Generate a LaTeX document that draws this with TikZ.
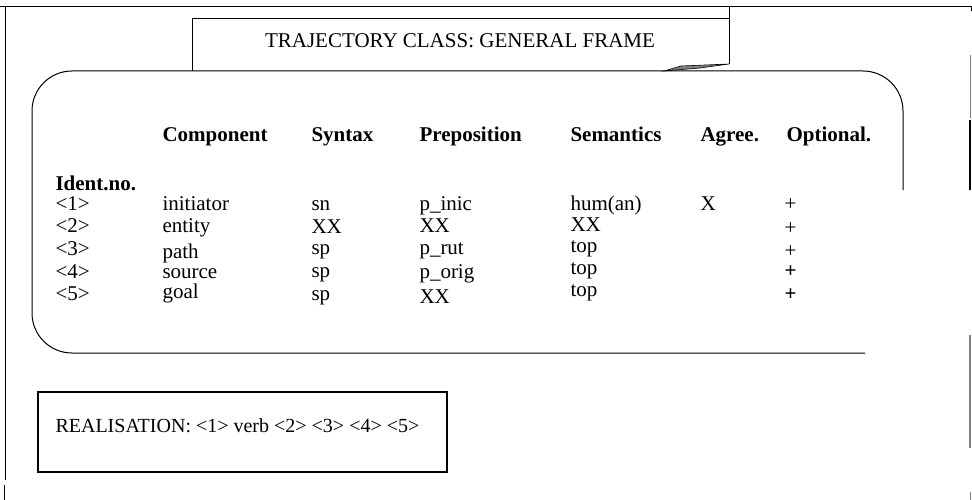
\documentclass[tikz,border=0pt]{standalone}
\usepackage{fontspec}
\setmainfont{Liberation Serif}
\begin{document}
\begin{tikzpicture}[x=1pt, y=-1pt, line width=1pt,
    cell/.style={anchor=base west, inner sep=0pt, font=\fontsize{21}{21}\selectfont},
    head/.style={cell, font=\fontsize{21}{21}\selectfont\bfseries}]
    \useasboundingbox (0,0) rectangle (972,500);
    % outer page frame
    \draw (0,7) -- (971,7) -- (971,11);
    \draw (5,7) -- (5,480);
    \draw (4,485) -- (4,500);
    \draw[gray] (970,55) -- (970,118);
    \draw[line width=1.6pt] (970,120) -- (970,190);
    \draw[gray, line width=1.3pt] (970,335) -- (970,448);
    \draw[gray] (970,492) -- (970,500);
    % title box
    \draw (192,71) -- (192,19) -- (729,19);
    \draw (729,7) -- (729,64);
    \filldraw[fill=gray, line width=0.6pt] (729,64) -- (681,66) -- (664,71) -- (700,68) -- cycle;
    \node[font=\fontsize{21}{21}\selectfont] (title) at (460,41) {TRAJECTORY CLASS: GENERAL FRAME};
    % frame of the table
    \draw[rounded corners=40pt] (903,190) -- (903,71) -- (32,71) -- (32,353) -- (865,353);
    % header
    \node[head] (hcomp) at (162,142) {Component};
    \node[head] (hsyn) at (311,142) {Syntax};
    \node[head] (hprep) at (419,142) {Preposition};
    \node[head] (hsem) at (570,142) {Semantics};
    \node[head] (hagr) at (700,142) {Agree.};
    \node[head] (hopt) at (786,142) {Optional.};
    \node[head] (hid) at (55,190) {Ident.no.};
    % identifiers
    \node[cell] (id1) at (55,210) {<1>};
    \node[cell] (id2) at (55,232) {<2>};
    \node[cell] (id3) at (55,255) {<3>};
    \node[cell] (id4) at (55,278) {<4>};
    \node[cell] (id5) at (55,300) {<5>};
    % component
    \node[cell] (comp1) at (162,210) {initiator};
    \node[cell] (comp2) at (162,232) {entity};
    \node[cell] (comp3) at (162,258) {path};
    \node[cell] (comp4) at (162,278) {source};
    \node[cell] (comp5) at (162,298) {goal};
    % syntax
    \node[cell] (syn1) at (311,210) {sn};
    \node[cell] (syn2) at (311,233) {XX};
    \node[cell] (syn3) at (311,254) {sp};
    \node[cell] (syn4) at (311,277) {sp};
    \node[cell] (syn5) at (311,300) {sp};
    % preposition
    \node[cell] (prep1) at (419,210) {p\_inic};
    \node[cell] (prep2) at (419,232) {XX};
    \node[cell] (prep3) at (419,254) {p\_rut};
    \node[cell] (prep4) at (419,278) {p\_orig};
    \node[cell] (prep5) at (419,303) {XX};
    % semantics
    \node[cell] (sem1) at (570,210) {hum(an)};
    \node[cell] (sem2) at (570,231) {XX};
    \node[cell] (sem3) at (570,252) {top};
    \node[cell] (sem4) at (570,274) {top};
    \node[cell] (sem5) at (570,296) {top};
    % agreement
    \node[cell] (agr1) at (700,210) {X};
    % optional
    \node[cell] (opt1) at (784,211) {+};
    \node[cell] (opt2) at (784,234) {+};
    \node[cell] (opt3) at (784,257) {+};
    \node[cell, font=\fontsize{21}{21}\selectfont\bfseries] (opt4) at (784,277) {+};
    \node[cell, font=\fontsize{21}{21}\selectfont\bfseries] (opt5) at (784,300) {+};
    % realisation box
    \draw[line width=1.3pt] (38,392) rectangle (447,472);
    \node[cell, font=\fontsize{20}{20}\selectfont] (real) at (55,432) {REALISATION: <1> verb <2> <3> <4> <5>};
\end{tikzpicture}
\end{document}
